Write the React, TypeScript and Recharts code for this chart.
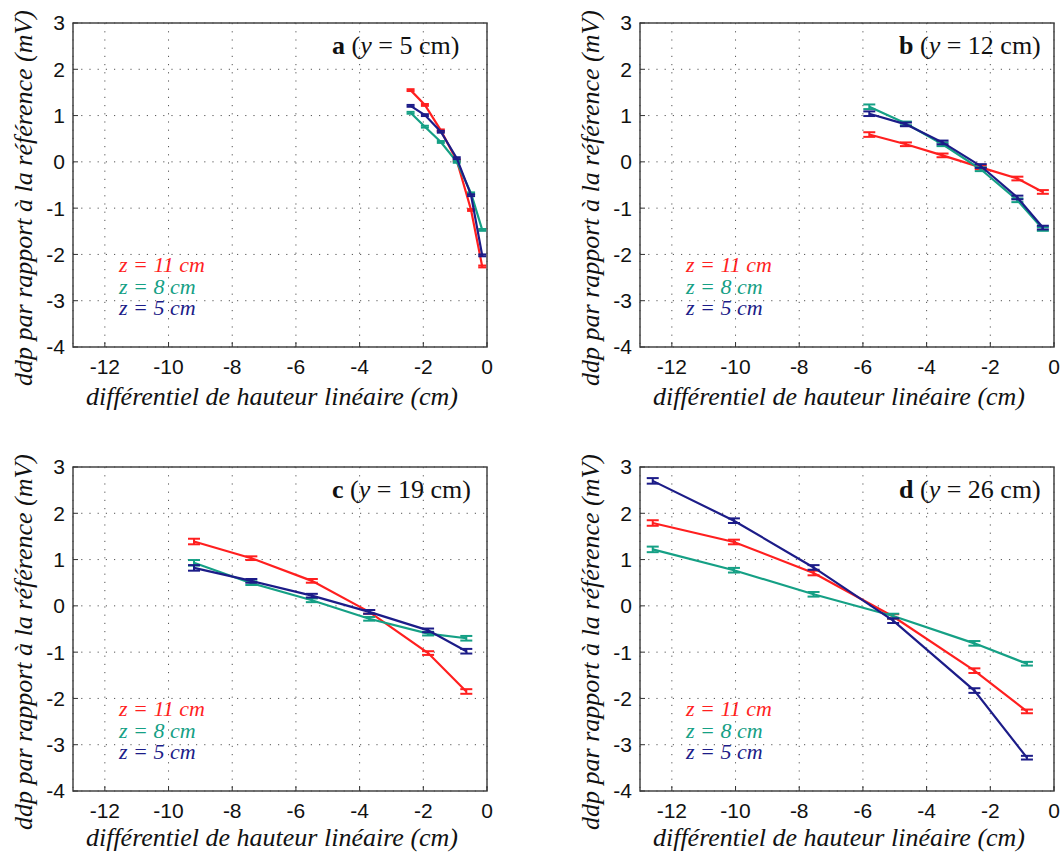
import React from "react"
import { LineChart, Line, XAxis, YAxis, CartesianGrid, ReferenceArea, ErrorBar } from "recharts"

const RED = "#ff1f1f"
const GREEN = "#15a085"
const NAVY = "#1c1c88"

const xTicks = [-12, -10, -8, -6, -4, -2, 0]
const yTicks = [-4, -3, -2, -1, 0, 1, 2, 3]
const legendLabels = ["z = 11 cm", "z = 8 cm", "z = 5 cm"]
const yLabel = "ddp par rapport à la référence (mV)"
const xLabel = "différentiel de hauteur linéaire (cm)"

// a (y = 5 cm)
const xA = [-2.4, -1.95, -1.45, -0.95, -0.5, -0.15]
const redA = [1.55, 1.23, 0.68, 0.03, -1.04, -2.26]
const greenA = [1.06, 0.76, 0.43, 0.0, -0.68, -1.47]
const navyA = [1.21, 1.01, 0.65, 0.08, -0.72, -2.02]
const errA = [0.02, 0.02, 0.02, 0.02, 0.02, 0.02]

// b (y = 12 cm)
const xB = [-5.8, -4.65, -3.5, -2.3, -1.15, -0.35]
const redB = [0.59, 0.38, 0.14, -0.12, -0.36, -0.65]
const greenB = [1.19, 0.83, 0.38, -0.16, -0.83, -1.45]
const navyB = [1.04, 0.81, 0.42, -0.09, -0.77, -1.42]
const errB = [0.05, 0.04, 0.04, 0.04, 0.04, 0.04]

// c (y = 19 cm)
const xC = [-9.2, -7.4, -5.5, -3.7, -1.85, -0.65]
const redC = [1.39, 1.03, 0.54, -0.13, -1.02, -1.85]
const greenC = [0.93, 0.49, 0.12, -0.28, -0.6, -0.7]
const navyC = [0.82, 0.54, 0.22, -0.13, -0.53, -0.98]
const errC = [0.06, 0.04, 0.04, 0.04, 0.04, 0.05]

// d (y = 26 cm)
const xD = [-12.6, -10.05, -7.55, -5.05, -2.5, -0.85]
const redD = [1.79, 1.38, 0.71, -0.23, -1.4, -2.28]
const greenD = [1.22, 0.77, 0.25, -0.22, -0.81, -1.25]
const navyD = [2.7, 1.84, 0.83, -0.32, -1.83, -3.28]
const errD = [0.06, 0.05, 0.05, 0.05, 0.05, 0.04]

const PLOT_W = 414
const PLOT_H = 324
const AXIS_W = 73
const TOP = 23

const serif = "'Liberation Serif', 'Times New Roman', serif"
const sans = "'Liberation Sans', Arial, sans-serif"

function Panel({ left, top, width, height, letter, yValue, xs, red, green, navy, err, xLabelGap, capWidth }) {
  const rows = xs.map((x, i) => ({ x, red: red[i], green: green[i], navy: navy[i], err: err[i] }))
  const plotBottom = TOP + PLOT_H
  const yMid = TOP + PLOT_H / 2 + 13
  const series = [
    { key: "red", color: RED },
    { key: "green", color: GREEN },
    { key: "navy", color: NAVY },
  ]

  return (
    <div style={{ position: "absolute", left, top, width, height }}>
      <LineChart
        width={width}
        height={height}
        data={rows}
        margin={{ top: TOP, right: width - AXIS_W - PLOT_W, bottom: 0, left: 0 }}
      >
        <CartesianGrid stroke="#555" strokeDasharray="1.2 7" />
        <XAxis
          type="number"
          dataKey="x"
          domain={[-13, 0]}
          ticks={xTicks}
          allowDataOverflow
          height={height - TOP - PLOT_H}
          axisLine={false}
          tickSize={-5}
          tickMargin={17}
          tickLine={{ stroke: "#333" }}
          tick={{ fill: "#111", fontSize: 21, fontFamily: sans }}
        />
        <YAxis
          type="number"
          domain={[-4, 3]}
          ticks={yTicks}
          allowDataOverflow
          width={AXIS_W}
          axisLine={false}
          tickSize={-5}
          tickMargin={13}
          tickLine={{ stroke: "#333" }}
          tick={{ fill: "#111", fontSize: 21, fontFamily: sans }}
        />
        <ReferenceArea x1={-13} x2={0} y1={-4} y2={3} fill="none" stroke="#444" strokeWidth={1.5} ifOverflow="visible" />
        {series.map((s) => (
          <Line
            key={s.key}
            type="linear"
            dataKey={s.key}
            stroke={s.color}
            strokeWidth={2.2}
            dot={false}
            isAnimationActive={false}
          >
            <ErrorBar dataKey="err" width={capWidth} stroke={s.color} strokeWidth={2} direction="y" isAnimationActive={false} />
          </Line>
        ))}
      </LineChart>

      {/* labels, title and legend drawn on top */}
      <svg width={width} height={height} style={{ position: "absolute", left: 0, top: 0, pointerEvents: "none" }}>
        <text
          x={23}
          y={yMid}
          transform={`rotate(-90, 23, ${yMid})`}
          textAnchor="middle"
          dominantBaseline="central"
          style={{ fontFamily: serif, fontStyle: "italic", fontSize: 26 }}
          fill="#111"
        >
          {yLabel}
        </text>
        <text
          x={AXIS_W + 199}
          y={plotBottom + xLabelGap}
          textAnchor="middle"
          style={{ fontFamily: serif, fontStyle: "italic", fontSize: 26 }}
          fill="#111"
        >
          {xLabel}
        </text>
        <text x={AXIS_W + 259} y={TOP + 31} style={{ fontFamily: serif, fontSize: 26 }} fill="#111">
          <tspan fontWeight="bold">{letter}</tspan>
          <tspan> (</tspan>
          <tspan fontStyle="italic">y</tspan>
          <tspan>{` = ${yValue} cm)`}</tspan>
        </text>
        {legendLabels.map((label, i) => (
          <text
            key={label}
            x={AXIS_W + 46}
            y={TOP + 249 + i * 21.5}
            style={{ fontFamily: serif, fontStyle: "italic", fontSize: 22 }}
            fill={series[i].color}
          >
            {label}
          </text>
        ))}
      </svg>
    </div>
  )
}

export default function App() {
  return (
    <div style={{ position: "absolute", left: 0, top: 0, width: 1061, height: 861, overflow: "hidden", background: "#fff" }}>
      <Panel left={0} top={0} width={500} height={420} letter="a" yValue="5" capWidth={4}
        xs={xA} red={redA} green={greenA} navy={navyA} err={errA} xLabelGap={58} />
      <Panel left={567} top={0} width={494} height={420} letter="b" yValue="12" capWidth={6}
        xs={xB} red={redB} green={greenB} navy={navyB} err={errB} xLabelGap={58} />
      <Panel left={0} top={444} width={500} height={417} letter="c" yValue="19" capWidth={6}
        xs={xC} red={redC} green={greenC} navy={navyC} err={errC} xLabelGap={55} />
      <Panel left={567} top={444} width={494} height={417} letter="d" yValue="26" capWidth={6}
        xs={xD} red={redD} green={greenD} navy={navyD} err={errD} xLabelGap={55} />
    </div>
  )
}
